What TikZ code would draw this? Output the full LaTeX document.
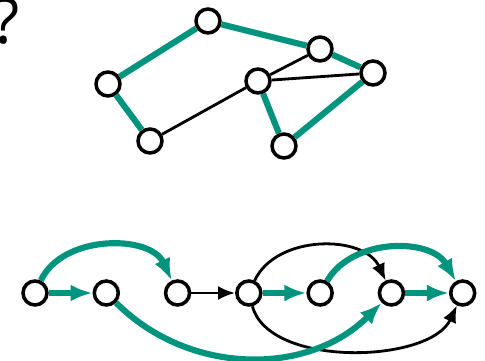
\documentclass[tikz,border=0pt]{standalone}
\usepackage{tikz}
\usepackage{fontspec}
\setsansfont{Open Sans}
\usetikzlibrary{positioning,arrows.meta}
\definecolor{pathgreen}{RGB}{0,148,126}

\begin{document}
\begin{tikzpicture}[x=0.02cm,y=-0.02cm,node distance=1.426cm,
    vtx/.style={circle,draw,line width=2pt,minimum size=0.48cm,inner sep=0pt,fill=white},
    pth/.style={draw=pathgreen,line width=3.5pt,>={Latex[length=0.44cm,width=0.34cm]}},
    plain/.style={draw,line width=1.6pt,>={Latex[length=0.34cm,width=0.28cm]}}]
    \useasboundingbox (0,0) rectangle (485,361);
    % question mark
    \node (q) at (6,21) {\sffamily\fontsize{36}{38}\selectfont ?};
    % upper graph
    \node[vtx] (a) at (208,21) {};
    \node[vtx] (b) at (320,49) {};
    \node[vtx] (c) at (373,73) {};
    \node[vtx] (d) at (258,81) {};
    \node[vtx] (e) at (108,84) {};
    \node[vtx] (f) at (150,141) {};
    \node[vtx] (g) at (284,146) {};
    % plain edges
    \draw[plain] (f) -- (d);
    \draw[plain] (d) -- (b);
    \draw[plain] (d) -- (c);
    % edges of the path
    \draw[pth] (f) -- (e);
    \draw[pth] (e) -- (a);
    \draw[pth] (a) -- (b);
    \draw[pth] (b) -- (c);
    \draw[pth] (c) -- (g);
    \draw[pth] (g) -- (d);
    % lower row
    \node[vtx] (p1) at (35,293) {};
    \node[vtx] (p2) [right of=p1] {};
    \node[vtx] (p3) [right of=p2] {};
    \node[vtx] (p4) [right of=p3] {};
    \node[vtx] (p5) [right of=p4] {};
    \node[vtx] (p6) [right of=p5] {};
    \node[vtx] (p7) [right of=p6] {};
    % black arcs
    \path[plain,->] (p3) edge (p4);
    \draw[plain,->] (p4) to[bend left=65] (p6);
    \draw[plain,->] (p4) to[out=-75,in=-115,looseness=0.8] (p7);
    % green arcs
    \draw[pth,->] (p1) -- (p2);
    \draw[pth,->] (p1) to[bend left=65] (p3);
    \draw[pth,->] (p2) to[bend right=45] (p6);
    \draw[pth,->] (p4) -- (p5);
    \draw[pth,->] (p5) to[bend left=60] (p7);
    \draw[pth,->] (p6) -- (p7);
\end{tikzpicture}
\end{document}
